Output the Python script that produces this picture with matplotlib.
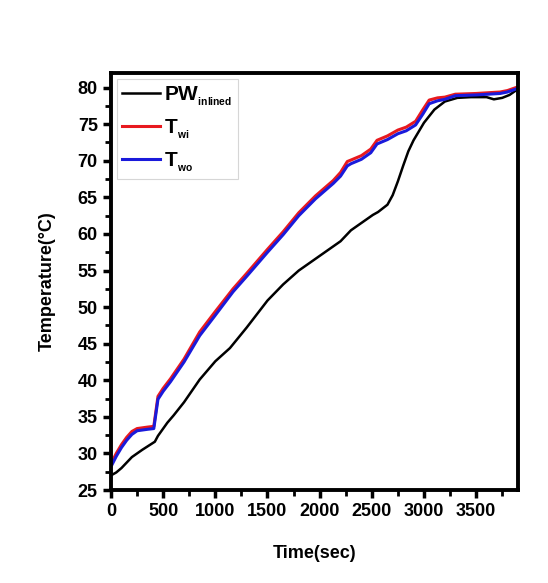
import numpy as np
import matplotlib.pyplot as plt
from matplotlib.ticker import MultipleLocator

plt.rcParams['font.family'] = ['Liberation Sans', 'DejaVu Sans']
plt.rcParams['font.weight'] = 'bold'
plt.rcParams['mathtext.fontset'] = 'custom'
plt.rcParams['mathtext.rm'] = 'Liberation Sans:bold'
plt.rcParams['mathtext.bf'] = 'Liberation Sans:bold'
plt.rcParams['mathtext.default'] = 'bf'

# tiempo (s) y temperaturas
t_pw = [0, 50, 100, 200, 300, 420, 450, 540, 600, 700, 850, 1000, 1140, 1300,
        1500, 1650, 1800, 1950, 2100, 2200, 2300, 2400, 2510, 2560, 2650, 2700,
        2750, 2800, 2850, 2900, 2950, 3000, 3100, 3200, 3320, 3450, 3600, 3670,
        3750, 3820, 3900]
pw = [27.0, 27.4, 28.0, 29.5, 30.5, 31.6, 32.4, 34.2, 35.2, 37.0, 40.1, 42.6, 44.4,
      47.2, 50.9, 53.1, 55.0, 56.5, 58.0, 59.0, 60.5, 61.5, 62.6, 63.0, 64.0, 65.3,
      67.2, 69.3, 71.3, 72.8, 74.0, 75.2, 77.0, 78.1, 78.6, 78.7, 78.7, 78.4, 78.6,
      79.0, 79.8]

t_w = [0, 50, 100, 150, 200, 250, 300, 350, 410, 450, 500, 570, 700, 850, 1000,
       1170, 1300, 1500, 1650, 1800, 1960, 2130, 2200, 2265, 2300, 2400, 2490,
       2550, 2650, 2750, 2830, 2920, 2990, 3050, 3130, 3200, 3300, 3500, 3730,
       3800, 3900]
twi = [28.6, 30.0, 31.2, 32.2, 33.0, 33.4, 33.5, 33.6, 33.7, 37.8, 38.9, 40.2, 42.9,
       46.6, 49.4, 52.5, 54.6, 57.9, 60.3, 62.9, 65.2, 67.3, 68.4, 69.9, 70.1, 70.7,
       71.6, 72.8, 73.4, 74.2, 74.6, 75.4, 77.0, 78.3, 78.6, 78.7, 79.1, 79.2, 79.4,
       79.6, 80.1]
two = [28.2, 29.6, 30.8, 31.8, 32.6, 33.1, 33.2, 33.3, 33.4, 37.4, 38.5, 39.8, 42.5,
       46.1, 48.9, 52.1, 54.2, 57.5, 59.9, 62.5, 64.8, 66.9, 67.9, 69.3, 69.6, 70.2,
       71.1, 72.3, 72.9, 73.7, 74.1, 74.9, 76.4, 77.8, 78.2, 78.4, 78.9, 79.0, 79.2,
       79.4, 79.9]

fig = plt.figure(figsize=(5.48, 5.83), dpi=100)
ax = fig.add_axes([0.2026, 0.1595, 0.7424, 0.7153])

ax.plot(t_pw, pw, color='black', linewidth=1.8, label=r'PW$_{_{inlined}}$')
ax.plot(t_w, twi, color='#e8191f', linewidth=2.2, label=r'T$_{_{wi}}$')
ax.plot(t_w, two, color='#1a1adb', linewidth=2.2, label=r'T$_{_{wo}}$')

ax.set_xlim(0, 3900)
ax.set_ylim(25, 82)
ax.xaxis.set_major_locator(MultipleLocator(500))
ax.xaxis.set_minor_locator(MultipleLocator(250))
ax.yaxis.set_major_locator(MultipleLocator(5))
ax.yaxis.set_minor_locator(MultipleLocator(2.5))
ax.tick_params(which='major', direction='out', length=6, width=2.5, labelsize=13)
ax.tick_params(which='minor', direction='out', length=4, width=2)
ax.tick_params(top=False, right=False)
for s in ax.spines.values():
    s.set_linewidth(2.8)

ax.set_xlabel('Time(sec)', fontsize=13, fontweight='bold', labelpad=18)
ax.set_ylabel('Temperature(°C)', fontsize=13, fontweight='bold', labelpad=16)

leg = ax.legend(loc='upper left', prop={'weight': 'bold', 'size': 15},
                frameon=True, fancybox=False,
                handlelength=1.8, handletextpad=0.2, borderpad=0.25,
                labelspacing=0.45, borderaxespad=0.3)
leg.get_frame().set_edgecolor('#cccccc')
leg.get_frame().set_linewidth(0.8)

fig.savefig('out.png', dpi=100)
